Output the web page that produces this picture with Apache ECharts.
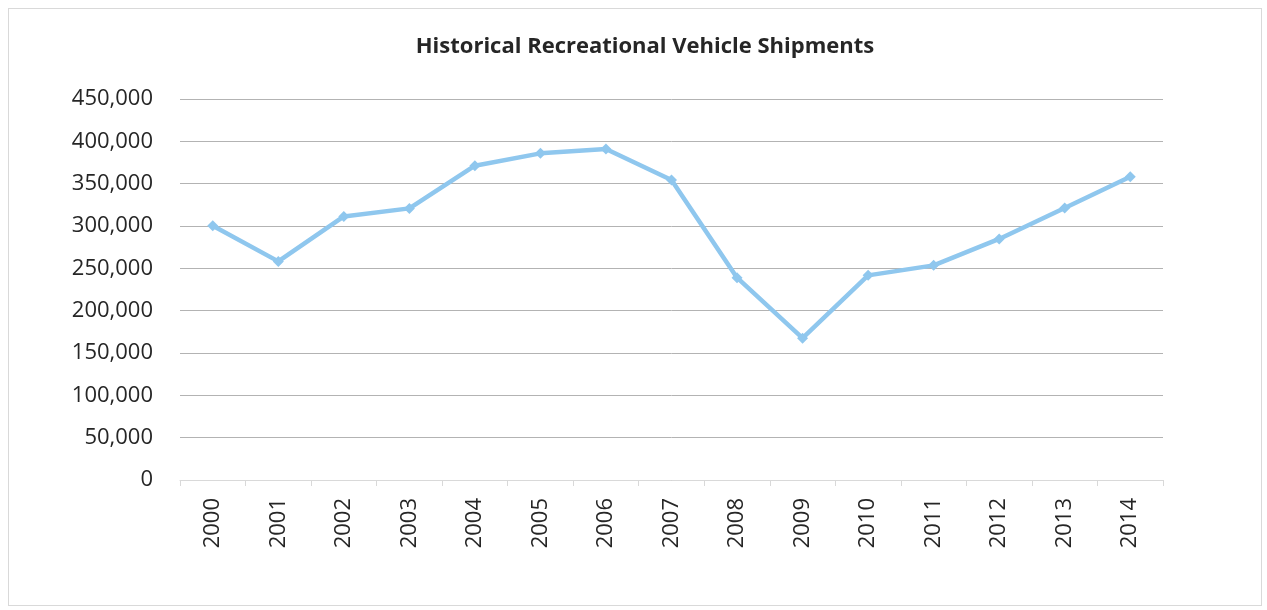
<!DOCTYPE html>
<html>
<head>
    <meta charset="utf-8">
    <script src="https://cdn.jsdelivr.net/npm/echarts@6/dist/echarts.min.js"></script>
    <style>
        body, html {
            margin: 0;
            height: 100%;
            background: #fff;
        }
        #frame {
            position: absolute;
            left: 8px;
            top: 8px;
            right: 5px;
            bottom: 4px;
            border: 1px solid #d9d9d9;
        }
        #main {
            position: absolute;
            left: 0;
            top: 0;
            width: 1267px;
            height: 610px;
        }
    </style>
</head>
<body>
<div id="frame"></div>
<div id="main"></div>

<script>
    // RV shipments by year (units)
    var years = ['2000', '2001', '2002', '2003', '2004', '2005', '2006', '2007',
                 '2008', '2009', '2010', '2011', '2012', '2013', '2014'];
    var shipments = [300400, 258200, 311300, 320800, 371200, 385800, 391000, 354400,
                     239000, 167500, 241700, 253500, 284700, 321200, 358200];

    var labelFont = '"Open Sans", "Liberation Sans", sans-serif';

    var myChart = echarts.init(document.getElementById('main'));
    var option = {
        animation: false,
        title: {
            text: 'Historical Recreational Vehicle Shipments',
            left: 640,
            textAlign: 'center',
            top: 31,
            textStyle: {
                fontFamily: labelFont,
                fontSize: 22,
                fontWeight: 'bold',
                color: '#262626'
            }
        },
        grid: {
            left: 180,
            right: 104,
            top: 99,
            bottom: 130,
            containLabel: false
        },
        xAxis: {
            type: 'category',
            data: years,
            boundaryGap: true,
            axisLine: {lineStyle: {color: '#d9d9d9', width: 1}},
            axisTick: {show: true, length: 6, alignWithLabel: false, lineStyle: {color: '#d9d9d9'}},
            axisLabel: {
                rotate: 90,
                margin: 18,
                fontFamily: labelFont,
                fontSize: 22,
                color: '#262626'
            }
        },
        yAxis: {
            type: 'value',
            min: 0,
            max: 450000,
            interval: 50000,
            axisLine: {show: false},
            axisTick: {show: false},
            splitLine: {lineStyle: {color: '#b3b3b3', width: 1}},
            axisLabel: {
                margin: 27,
                fontFamily: labelFont,
                fontSize: 22,
                color: '#262626',
                formatter: function (v) {
                    return v.toString().replace(/(\d)(?=(\d{3})+$)/g, '$1,');
                }
            }
        },
        series: [{
            name: 'Shipments',
            type: 'line',
            data: shipments,
            symbol: 'diamond',
            symbolSize: 11,
            lineStyle: {color: '#8fc7ee', width: 4.5},
            itemStyle: {color: '#8fc7ee'}
        }]
    };
    myChart.setOption(option);
</script>
</body>
</html>
